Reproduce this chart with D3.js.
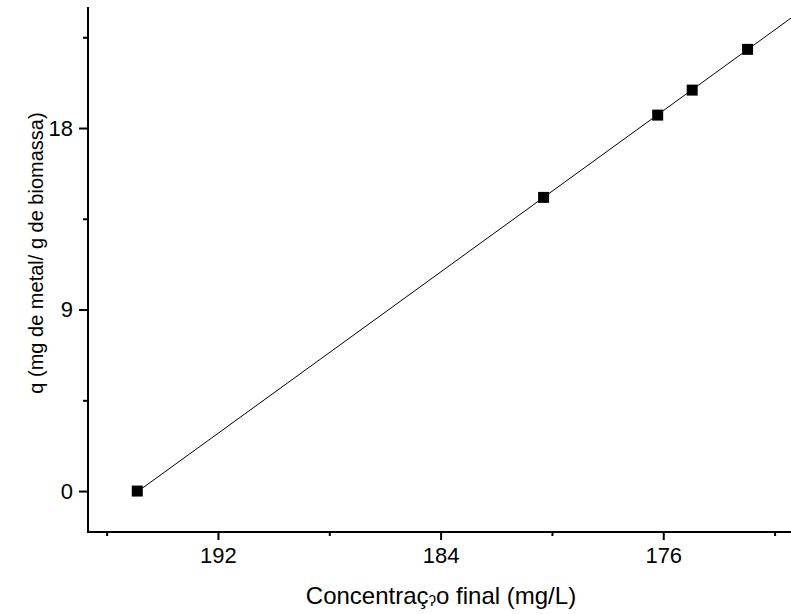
<html>
<head>
  <title>q vs concentracao final</title>
  <script src="https://d3js.org/d3.v7.min.js"></script>
  <style>
    body { margin: 0; background: #fff; }
    text { font-family: "Liberation Sans", Arial, sans-serif; fill: #000; }
  </style>
</head>
<body>
  <script>
    var w = 791;
    var h = 614;
    // data
    var conc = [194.9, 180.3, 176.2, 174.96, 172.97];
    var qVals = [0, 14.56, 18.64, 19.88, 21.9];
    var xMajor = [192, 184, 176];
    var xMinor = [196, 188, 180, 172];
    var yMajor = [0, 9, 18];
    var yMinor = [4.5, 13.5, 22.5];
    // linear fit q = a + b*C
    var fitA = 194.86;
    var fitB = -1.0;

    var padL = 88, padR = 791, padT = 7, padB = 532;
    var x = d3.scaleLinear().domain([196.67, 171.41]).range([padL, padR]);
    var y = d3.scaleLinear().domain([-2.03, 24.0]).range([padB, padT]);

    var svg = d3.select("body").append("svg").attr("width", w).attr("height", h);

    // fit line
    var x0 = conc[0], x1 = x.domain()[1];
    svg.append("line")
      .attr("x1", x(x0)).attr("y1", y(fitA + fitB * x0))
      .attr("x2", x(x1)).attr("y2", y(fitA + fitB * x1))
      .attr("stroke", "#000").attr("stroke-width", 1);

    // points
    var s = 11;
    svg.selectAll("rect.pt").data(conc).enter().append("rect")
      .attr("class", "pt")
      .attr("x", function(d){return x(d) - s/2;})
      .attr("y", function(d, i){return y(qVals[i]) - s/2;})
      .attr("width", s).attr("height", s).attr("fill", "#000");

    // x axis
    var gx = svg.append("g").attr("transform", "translate(0," + padB + ")");
    gx.call(d3.axisBottom(x).tickValues(xMajor).tickSize(8).tickPadding(7).tickFormat(d3.format("d")));
    var gxm = svg.append("g").attr("transform", "translate(0," + padB + ")");
    gxm.call(d3.axisBottom(x).tickValues(xMinor).tickSize(4).tickFormat(""));
    gxm.select(".domain").remove();

    // y axis
    var gy = svg.append("g").attr("transform", "translate(" + padL + ",0)");
    gy.call(d3.axisLeft(y).tickValues(yMajor).tickSize(9).tickPadding(6).tickFormat(d3.format("d")));
    var gym = svg.append("g").attr("transform", "translate(" + padL + ",0)");
    gym.call(d3.axisLeft(y).tickValues(yMinor).tickSize(5).tickFormat(""));
    gym.select(".domain").remove();

    gx.select(".domain").attr("d", "M" + padL + ",0H" + padR).attr("stroke-width", 2);
    gy.select(".domain").attr("d", "M0," + padT + "V" + (padB + 1)).attr("stroke-width", 2);
    svg.selectAll(".tick line").attr("stroke-width", 2);
    svg.selectAll("g").attr("font-size", 22).attr("font-family", "Liberation Sans, Arial, sans-serif");

    // titles
    var xt = svg.append("text").attr("x", 441).attr("y", 604).attr("text-anchor", "middle")
      .style("font-size", "24px");
    xt.append("tspan").text("Concentraç");
    xt.append("tspan").attr("dy", 2).style("font-size", "15px").text("ʔ");
    xt.append("tspan").attr("dy", -2).text("o final (mg/L)");

    svg.append("text").attr("transform", "translate(43,253) rotate(-90)")
      .attr("text-anchor", "middle").style("font-size", "20px")
      .text("q (mg de metal/ g de biomassa)");
  </script>
</body>
</html>
